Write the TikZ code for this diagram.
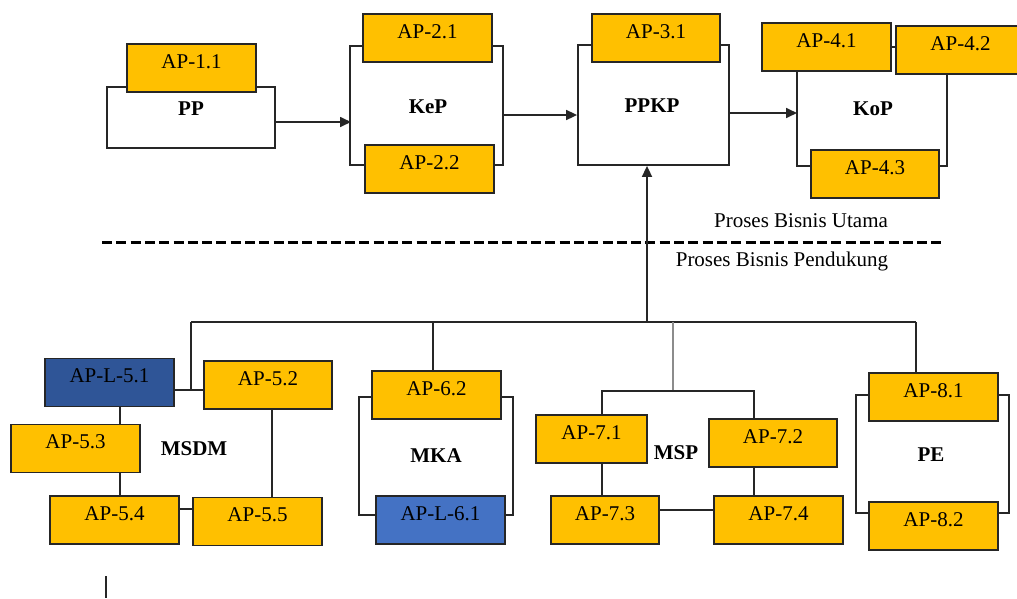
\documentclass[tikz,border=0pt]{standalone}
\usepackage{fontspec}
\setmainfont{Liberation Serif}
\usetikzlibrary{arrows.meta}
\definecolor{apyellow}{HTML}{FFC000}
\definecolor{apnavy}{HTML}{2F5597}
\definecolor{apblue}{HTML}{4472C4}
\definecolor{busgray}{HTML}{8C8C8C}

\begin{document}
\begin{tikzpicture}[x=1pt,y=-1pt,
  font=\fontsize{21}{24}\selectfont,
  box/.style={draw=black!85, line width=1.8pt, inner sep=0pt, text height=9pt, text depth=9pt},
  ap/.style={box, fill=apyellow, minimum width=129pt, minimum height=48pt},
  apnavybox/.style={ap, fill=apnavy},
  apbluebox/.style={ap, fill=apblue},
  frame/.style={draw=black!85, line width=1.8pt, fill=white, inner sep=0pt},
  lbl/.style={font=\fontsize{21}{24}\selectfont\bfseries, anchor=base, inner sep=0pt},
  note/.style={anchor=base, inner sep=0pt},
  link/.style={draw=black!85, line width=1.7pt},
  arr/.style={link, -{Triangle[length=11pt,width=10pt]}},
]
\useasboundingbox (0,0) rectangle (1017,598);
\clip (0,0) rectangle (1017,598);

% ---------- main process ----------
\node[frame, minimum width=168pt, minimum height=61pt] (pp) at (191,117.5) {};
\node[ap] (a11) at (191.5,68) {AP-1.1};
\node[lbl] (tpp) at (191,115) {PP};

\node[ap] (a21) at (427.5,38) {AP-2.1};
\node[ap] (a22) at (429.5,169) {AP-2.2};
\node[lbl] (tkep) at (428,113) {KeP};
\draw[link] ([yshift=-8pt]a21.west) -- ++(-12,0) |- ([yshift=4pt]a22.west);
\draw[link] ([yshift=-8pt]a21.east) -- ++(10,0) |- ([yshift=4pt]a22.east);

\node[frame, minimum width=151pt, minimum height=120pt] (ppkp) at (653.5,105) {};
\node[ap, minimum width=128pt] (a31) at (656,38) {AP-3.1};
\node[lbl] (tppkp) at (652,112) {PPKP};

\node[ap] (a41) at (826.5,47) {AP-4.1};
\node[ap] (a42) at (960.5,50) {AP-4.2};
\node[ap, minimum width=128pt] (a43) at (875,174) {AP-4.3};
\node[lbl] (tkop) at (873,115) {KoP};
\draw[link] (a41.east) -- (a41.east -| a42.west);
\draw[link] ([xshift=-29.5pt]a41.south) |- ([yshift=8pt]a43.west);
\draw[link] ([xshift=-13.5pt]a42.south) |- ([yshift=8pt]a43.east);

% flow arrows
\coordinate (kepin) at (351,122);
\coordinate (kepout) at (502,115);
\coordinate (kopin) at (797,113);
\draw[arr] (pp.east |- kepin) -- (kepin);
\draw[arr] (kepout) -- (ppkp.west |- kepout);
\draw[arr] (ppkp.east |- kopin) -- (kopin);

% ---------- divider ----------
\coordinate (dl) at (102,242);
\coordinate (dr) at (945,242);
\draw[line width=3pt, dash pattern=on 10pt off 4.3pt] (dl) -- (dr);
\node[note] (utama) at (801,227) {Proses Bisnis Utama};
\node[note] (pendukung) at (782,266) {Proses Bisnis Pendukung};

% ---------- support bus ----------
\coordinate (busL) at (191,322);
\coordinate (busR) at (916,322);
\coordinate (busup) at (647,322);
\draw[link] (busL) -- (busR);
\draw[arr] (busup) -- (busup |- ppkp.south);

% MSDM
\node[apnavybox] (l51) at (109.5,382.5) {AP-L-5.1};
\node[ap, minimum width=128pt] (a52) at (268,385) {AP-5.2};
\node[ap] (a53) at (75.5,448.5) {AP-5.3};
\node[ap] (a54) at (114.5,520) {AP-5.4};
\node[ap] (a55) at (257.5,521.5) {AP-5.5};
\node[lbl] (tmsdm) at (194,455) {MSDM};
\coordinate (j5) at (191,390);
\coordinate (v5a) at (120,450);
\coordinate (v5b) at (272,450);
\coordinate (h5) at (186,509);
\draw[link] (busL) -- (j5);
\draw[link] (l51.east |- j5) -- (a52.west |- j5);
\draw[link] (l51.south -| v5a) -- (a53.north -| v5a);
\draw[link] (a53.south -| v5a) -- (a54.north -| v5a);
\draw[link] (a54.east |- h5) -- (a55.west |- h5);
\draw[link] (a52.south -| v5b) -- (a55.north -| v5b);

% MKA
\node[ap] (a62) at (436.5,395) {AP-6.2};
\node[apbluebox] (l61) at (440.5,520) {AP-L-6.1};
\node[lbl] (tmka) at (436,462) {MKA};
\coordinate (v6) at (433,350);
\draw[link] (busL -| v6) -- (a62.north -| v6);
\draw[link] ([yshift=-2pt]a62.west) -- ++(-12,0) |- ([yshift=5pt]l61.west);
\draw[link] ([yshift=-2pt]a62.east) -- ++(11,0) |- ([yshift=5pt]l61.east);

% MSP
\node[ap, minimum width=111pt] (a71) at (591.5,439) {AP-7.1};
\node[ap, minimum width=128pt] (a72) at (773,443) {AP-7.2};
\node[ap, minimum width=108pt] (a73) at (605,520) {AP-7.3};
\node[ap] (a74) at (778.5,520) {AP-7.4};
\node[lbl] (tmsp) at (676,459) {MSP};
\coordinate (g1) at (673,322);
\coordinate (g2) at (673,391);
\coordinate (m1) at (602,391);
\coordinate (m2) at (754,391);
\draw[draw=busgray, line width=2.2pt] (g1) -- (g2);
\draw[link] (a71.north -| m1) -- (m1) -- (m2) -- (a72.north -| m2);
\draw[link] (a71.south -| m1) -- (a73.north -| m1);
\draw[link] (a72.south -| m2) -- (a74.north -| m2);
\draw[link] ([yshift=10pt]a73.east) -- ([yshift=10pt]a74.west);

% PE
\node[ap] (a81) at (933.5,397) {AP-8.1};
\node[ap] (a82) at (933.5,526) {AP-8.2};
\node[lbl] (tpe) at (931,461) {PE};
\draw[link] (busR) -- (busR |- a81.north);
\draw[link] ([yshift=2pt]a81.west) -- ++(-12,0) |- ([yshift=13pt]a82.west);
\draw[link] ([yshift=2pt]a81.east) -- ++(10,0) |- ([yshift=13pt]a82.east);

% short mark at the foot
\coordinate (s1) at (106,576);
\coordinate (s2) at (106,598);
\draw[link] (s1) -- (s2);
\end{tikzpicture}
\end{document}
